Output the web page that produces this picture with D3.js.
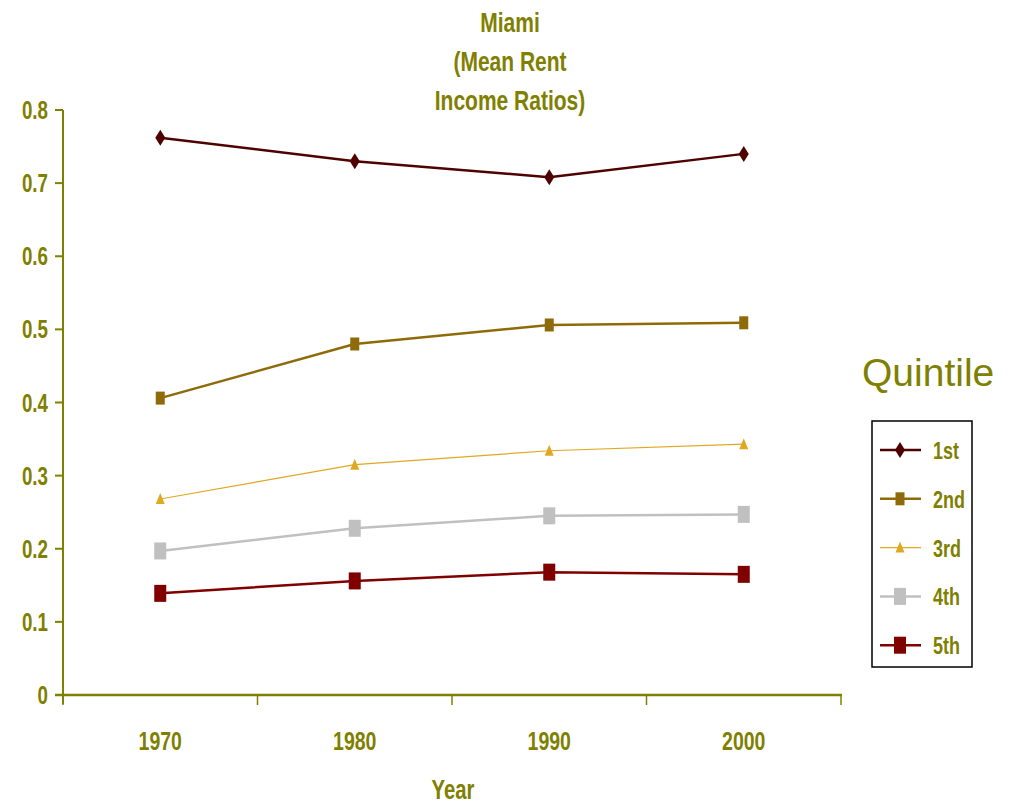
<!DOCTYPE html>
<html><head><meta charset="utf-8">
<script src="https://cdn.jsdelivr.net/npm/d3@7"></script>
<style>
body{margin:0;background:#fff;}
svg{display:block;}
.nar{font-family:'Liberation Sans',Arial,sans-serif;font-weight:bold;fill:#808000;}
</style></head>
<body>
<svg id="c" width="1023" height="806"></svg>
<script>
const years = ["1970","1980","1990","2000"];
const seriesNames = ["1st","2nd","3rd","4th","5th"];
const q1 = [0.762,0.730,0.708,0.740];
const q2 = [0.406,0.480,0.506,0.509];
const q3 = [0.268,0.315,0.334,0.343];
const q4 = [0.197,0.228,0.245,0.247];
const q5 = [0.139,0.156,0.168,0.165];
const yTicks = [0,0.1,0.2,0.3,0.4,0.5,0.6,0.7,0.8];
const titleLines = ["Miami","(Mean Rent","Income Ratios)"];

const olive = "#808000";
const SX = 0.75;
const series = [
  {name:seriesNames[0], values:q1, color:"#4f0000", width:2.5, marker:"diamond"},
  {name:seriesNames[1], values:q2, color:"#8f6a08", width:2.5, marker:"square"},
  {name:seriesNames[2], values:q3, color:"#e0a820", width:1.2, marker:"triangle"},
  {name:seriesNames[3], values:q4, color:"#c0c0c0", width:2.5, marker:"bigsquare"},
  {name:seriesNames[4], values:q5, color:"#800000", width:2.5, marker:"bigsquare"}
];

const svg = d3.select("#c");
const x = d3.scaleBand().domain(years).range([63,841]);
const y = d3.scaleLinear().domain([0,0.8]).range([695,110]);
const cx = d => x(d) + x.bandwidth()/2;

function ntext(sel, px, py, size, anchor, txt){
  return sel.append("text").attr("class","nar")
    .attr("transform",`translate(${px},${py}) scale(${SX},1)`)
    .attr("font-size",size).attr("text-anchor",anchor).text(txt);
}

// title
titleLines.forEach((t,i)=>ntext(svg,510,32+i*39,28,"middle",t));

// y axis
const ya = svg.append("g");
ya.append("line").attr("x1",63).attr("x2",63).attr("y1",y(0.8)).attr("y2",y(0)+9)
  .attr("stroke",olive).attr("stroke-width",2);
ya.selectAll("line.t").data(yTicks).join("line").attr("class","t")
  .attr("x1",55).attr("x2",63).attr("y1",d=>y(d)).attr("y2",d=>y(d))
  .attr("stroke",olive).attr("stroke-width",2);
yTicks.forEach(d=>ntext(ya,48,y(d)+9,25,"end",String(+d.toFixed(1))));

// x axis
const xa = svg.append("g");
xa.append("line").attr("x1",55).attr("x2",842).attr("y1",695).attr("y2",695)
  .attr("stroke",olive).attr("stroke-width",2.5);
const bounds = years.map(d=>x(d)).concat([x.range()[1]]);
xa.selectAll("line.t").data(bounds).join("line").attr("class","t")
  .attr("x1",d=>d).attr("x2",d=>d).attr("y1",695).attr("y2",705)
  .attr("stroke",olive).attr("stroke-width",1.5);
years.forEach(d=>ntext(xa,cx(d),750,26,"middle",d));
ntext(svg,453,799,27,"middle","Year");

// markers
function drawMarker(g, type, color){
  if(type==="diamond"){
    g.append("path").attr("d","M0,-8L5,0L0,8L-5,0Z").attr("fill",color);
  } else if(type==="square"){
    g.append("rect").attr("x",-4.5).attr("y",-6.5).attr("width",9).attr("height",13).attr("fill",color);
  } else if(type==="triangle"){
    g.append("path").attr("d","M0,-6L4.5,5L-4.5,5Z").attr("fill",color);
  } else {
    g.append("rect").attr("x",-6).attr("y",-8.5).attr("width",12).attr("height",17).attr("fill",color);
  }
}

const line = d3.line().x((d,i)=>cx(years[i])).y(d=>y(d));
series.forEach(s=>{
  svg.append("path").attr("d",line(s.values)).attr("fill","none")
    .attr("stroke",s.color).attr("stroke-width",s.width).attr("stroke-linejoin","round");
  s.values.forEach((v,i)=>{
    const g = svg.append("g").attr("transform",`translate(${cx(years[i])},${y(v)})`);
    drawMarker(g,s.marker,s.color);
  });
});

// legend
svg.append("text").attr("x",862).attr("y",386).attr("font-family","'Liberation Sans',Arial,sans-serif")
  .attr("font-size",39).attr("fill",olive).text("Quintile");
svg.append("rect").attr("x",872).attr("y",421).attr("width",100).attr("height",246)
  .attr("fill","#fff").attr("stroke","#000").attr("stroke-width",1.5);
series.forEach((s,i)=>{
  const ly = 450 + i*48.8;
  svg.append("line").attr("x1",880).attr("x2",921).attr("y1",ly).attr("y2",ly)
    .attr("stroke",s.color).attr("stroke-width",s.width);
  const g = svg.append("g").attr("transform",`translate(900,${ly})`);
  drawMarker(g,s.marker,s.color);
  ntext(svg,933,ly+9,24,"start",s.name);
});
</script>
</body></html>
